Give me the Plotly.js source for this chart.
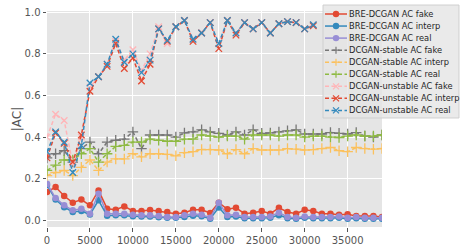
<!DOCTYPE html>
<html><head><meta charset="utf-8">
<script src="https://cdn.plot.ly/plotly-3.0.1.min.js"></script>
<style>html,body{margin:0;padding:0;background:#fff;} #chart{width:464px;height:250px;}</style>
</head><body><div id="chart"></div>
<script>
// ---------------- data ----------------
const steps = [0,1000,2000,3000,4000,5000,6000,7000,8000,9000,10000,11000,12000,13000,14000,15000,16000,17000,18000,19000,
  20000,21000,22000,23000,24000,25000,26000,27000,28000,29000,30000,31000,32000,33000,34000,35000,36000,37000,38000,39000];

const breFake   = [0.136,0.160,0.117,0.085,0.100,0.072,0.144,0.056,0.051,0.067,0.045,0.045,0.050,0.045,0.040,0.032,0.037,0.051,0.051,0.035,
  0.085,0.053,0.060,0.032,0.037,0.045,0.032,0.060,0.040,0.032,0.051,0.045,0.032,0.032,0.027,0.029,0.021,0.021,0.021,0.016];
const breInterp = [0.170,0.100,0.063,0.040,0.045,0.028,0.096,0.022,0.025,0.024,0.020,0.018,0.018,0.015,0.012,0.012,0.016,0.022,0.020,0.008,
  0.062,0.016,0.018,0.010,0.010,0.010,0.012,0.025,0.010,0.008,0.012,0.010,0.010,0.010,0.012,0.008,0.010,0.008,0.008,0.008];
const breReal   = [0.176,0.107,0.072,0.048,0.056,0.032,0.128,0.032,0.032,0.032,0.027,0.024,0.024,0.021,0.016,0.016,0.024,0.032,0.027,0.013,
  0.085,0.024,0.027,0.016,0.016,0.016,0.019,0.037,0.016,0.013,0.019,0.016,0.016,0.016,0.019,0.013,0.016,0.013,0.013,0.013];

const stableFake   = [0.300,0.320,0.335,0.280,0.345,0.376,0.320,0.376,0.385,0.390,0.425,0.345,0.410,0.410,0.410,0.400,0.420,0.425,0.435,0.425,
  0.418,0.410,0.425,0.410,0.435,0.418,0.420,0.425,0.430,0.435,0.415,0.415,0.415,0.422,0.418,0.415,0.422,0.405,0.400,0.410];
const stableInterp = [0.215,0.230,0.240,0.215,0.255,0.290,0.240,0.280,0.295,0.295,0.320,0.305,0.320,0.320,0.317,0.310,0.325,0.330,0.340,0.340,
  0.338,0.320,0.340,0.320,0.345,0.338,0.338,0.338,0.345,0.342,0.338,0.340,0.345,0.350,0.335,0.330,0.350,0.345,0.342,0.345];
const stableReal   = [0.240,0.265,0.290,0.290,0.320,0.345,0.280,0.320,0.355,0.360,0.376,0.376,0.390,0.385,0.380,0.380,0.390,0.390,0.410,0.405,
  0.400,0.405,0.405,0.390,0.410,0.410,0.410,0.405,0.410,0.410,0.400,0.405,0.405,0.400,0.398,0.405,0.410,0.405,0.405,0.410];

// unstable runs stop at step 31000 (no marks are visible behind the legend)
const unstableFake   = [0.400,0.510,0.480,0.270,0.400,0.640,0.690,0.750,0.860,0.770,0.820,0.720,0.800,0.930,0.850,0.930,0.960,0.870,0.900,0.950,
  0.850,0.960,0.900,0.950,0.920,0.950,0.900,0.945,0.955,0.950,0.920,0.940];
const unstableInterp = [0.300,0.420,0.370,0.280,0.410,0.620,0.690,0.740,0.850,0.730,0.780,0.670,0.750,0.920,0.860,0.930,0.960,0.860,0.900,0.950,
  0.825,0.960,0.890,0.950,0.920,0.950,0.900,0.945,0.955,0.950,0.920,0.935];
const unstableReal   = [0.330,0.425,0.375,0.230,0.360,0.660,0.690,0.750,0.870,0.760,0.800,0.710,0.770,0.920,0.865,0.930,0.960,0.870,0.900,0.950,
  0.850,0.960,0.900,0.950,0.920,0.950,0.900,0.945,0.955,0.950,0.920,0.940];

const seriesNames = ['BRE-DCGAN AC fake','BRE-DCGAN AC interp','BRE-DCGAN AC real',
  'DCGAN-stable AC fake','DCGAN-stable AC interp','DCGAN-stable AC real',
  'DCGAN-unstable AC fake','DCGAN-unstable AC interp','DCGAN-unstable AC real'];
const seriesValues = [breFake,breInterp,breReal,stableFake,stableInterp,stableReal,unstableFake,unstableInterp,unstableReal];
const xTickVals = [0,5000,10000,15000,20000,25000,30000,35000];
const yTickVals = [0,0.2,0.4,0.6,0.8,1.0];
const yLabel = '|AC|';

// ---------------- styles ----------------
const colors = ['#E24A33','#348ABD','#988ED5','#777777','#FBC15E','#8EBA42','#FFB5B8','#E24A33','#348ABD'];
const kinds  = ['o','o','o','+','+','+','x','x','x'];
const DASH = '4px,2.5px';

const W = 464, H = 250, ML = 47, MR = 82, MT = 11, MB = 23;
const pw = W - ML - MR, ph = H - MT - MB;
const px = v => (v - ML) / pw;
const py = v => (H - MB - v) / ph;

const traces = seriesValues.map((vals, i) => {
  const k = kinds[i], c = colors[i];
  const t = {x: steps.slice(0, vals.length), y: vals, type: 'scatter', mode: 'lines+markers', name: seriesNames[i],
    line: {color: c, width: 1.5, dash: k === 'o' ? 'solid' : DASH}, showlegend: false};
  if (k === 'o') t.marker = {symbol: 'circle', size: 6.5, color: c, line: {width: 0}};
  else if (k === '+') t.marker = {symbol: 'cross-thin', size: 7.5, color: c, line: {width: 1.3, color: c}};
  else t.marker = {symbol: 'x-thin', size: 6.5, color: c, line: {width: 1.3, color: c}};
  return t;
});

// custom compact legend (box, handles, labels)
const shapes = [{type: 'rect', xref: 'paper', yref: 'paper', x0: px(323), x1: px(459), y0: py(118), y1: py(5),
  fillcolor: 'rgba(229,229,229,0.8)', line: {color: 'rgba(204,204,204,0.9)', width: 1}, layer: 'above'}];
const annotations = [];
seriesNames.forEach((nm, i) => {
  const cy = 14 + i * 12.05, c = colors[i], k = kinds[i], mx = 336;
  const ln = (x0, y0, x1, y1, w, dash) => shapes.push({type: 'line', xref: 'paper', yref: 'paper',
    x0: px(x0), x1: px(x1), y0: py(y0), y1: py(y1), line: {color: c, width: w, dash: dash || 'solid'}, layer: 'above'});
  ln(325, cy, 347, cy, 1.5, k === 'o' ? 'solid' : DASH);
  if (k === 'o') shapes.push({type: 'circle', xref: 'paper', yref: 'paper', x0: px(mx - 3.2), x1: px(mx + 3.2),
    y0: py(cy + 3.2), y1: py(cy - 3.2), fillcolor: c, line: {width: 0}, layer: 'above'});
  else if (k === '+') { ln(mx - 3.5, cy, mx + 3.5, cy, 1.2); ln(mx, cy - 3.5, mx, cy + 3.5, 1.2); }
  else { ln(mx - 3, cy - 3, mx + 3, cy + 3, 1.2); ln(mx - 3, cy + 3, mx + 3, cy - 3, 1.2); }
  annotations.push({xref: 'paper', yref: 'paper', x: px(348), y: py(cy), xanchor: 'left', yanchor: 'middle',
    text: nm, showarrow: false, font: {family: 'DejaVu Sans', size: 8.3, color: '#262626'}, borderpad: 0});
});

const layout = {
  width: W, height: H,
  margin: {l: ML, r: MR, t: MT, b: MB, pad: 0},
  paper_bgcolor: '#FFFFFF', plot_bgcolor: '#E5E5E5',
  font: {family: 'DejaVu Sans', size: 10, color: '#555555'},
  showlegend: false,
  xaxis: {range: [0, 39000], tickvals: xTickVals, ticktext: xTickVals.map(String), showgrid: true, gridcolor: '#FFFFFF', gridwidth: 1,
    zeroline: false, showline: false, ticks: 'outside', ticklen: 3.5, tickwidth: 1, tickcolor: '#555555',
    tickfont: {size: 10, color: '#555555'}, automargin: false},
  yaxis: {range: [-0.032, 1.006], tickvals: yTickVals, ticktext: yTickVals.map(v => v.toFixed(1)), showgrid: true, gridcolor: '#FFFFFF', gridwidth: 1,
    zeroline: false, showline: false, ticks: 'outside', ticklen: 3.5, tickwidth: 1, tickcolor: '#555555',
    tickfont: {size: 10, color: '#555555'}, automargin: false,
    title: {text: yLabel, font: {size: 12, color: '#555555'}, standoff: 0}},
  shapes: shapes, annotations: annotations
};

Plotly.newPlot('chart', traces, layout, {displayModeBar: false, staticPlot: true});
</script>
</body></html>
